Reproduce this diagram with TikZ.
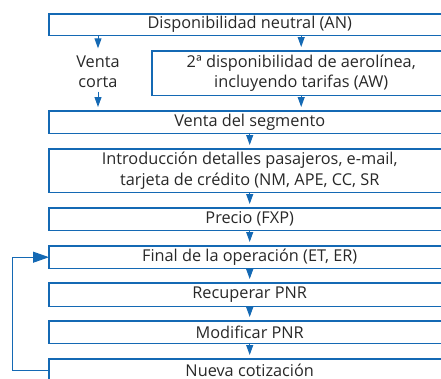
\documentclass[tikz,border=0pt]{standalone}
\usepackage{fontspec}
\setmainfont{Open Sans}
\usepackage{tikz}
\usetikzlibrary{arrows.meta}
\definecolor{flowblue}{RGB}{20,105,180}
\definecolor{textgray}{RGB}{40,40,40}

\begin{document}
\begin{tikzpicture}[
  x=1pt, y=-1pt,
  font=\fontsize{16.3}{20.5}\selectfont, text=textgray,
  stepbox/.style={anchor=north west, minimum width=401pt, inner sep=0pt, align=center},
  frame/.style={draw=flowblue, line width=1.1pt},
  flow/.style={draw=flowblue, line width=1pt, -{Triangle[width=7pt, length=10pt]}, shorten >=4pt},
  back/.style={draw=flowblue, line width=1pt, -{Triangle[width=11pt, length=16pt]}}
]
  \useasboundingbox (0,0) rectangle (441,378);
  \clip (0,0) rectangle (441,378);
  % steps of the booking
  \node[stepbox, minimum height=21pt] (an) at (49,14) {Disponibilidad neutral (AN)};
  \node[align=center] (vc) at (98,72) {Venta\\corta};
  \node[stepbox, minimum width=298pt, minimum height=44pt] (aw) at (152,51)
    {2ª disponibilidad de aerolínea,\\incluyendo tarifas (AW)};
  \node[stepbox, minimum height=22pt] (ss) at (49,111) {Venta del segmento};
  \node[stepbox, minimum height=43pt] (pax) at (49,149)
    {Introducción detalles pasajeros, e-mail,\\tarjeta de crédito (NM, APE, CC, SR};
  \node[stepbox, minimum height=22pt] (fxp) at (49,208) {Precio (FXP)};
  \node[stepbox, minimum height=22pt] (et) at (49,246) {Final de la operación (ET, ER)};
  \node[stepbox, minimum height=23pt] (rt) at (49,283) {Recuperar PNR};
  \node[stepbox, minimum height=22pt] (mod) at (49,321) {Modificar PNR};
  \node[stepbox, minimum height=22pt] (nc) at (49,359) {Nueva cotización};
  % frames run on past the right edge
  \foreach \n in {an, aw, ss, pax, fxp, et, rt, mod, nc} {
    \draw[frame] (\n.south east) -- (\n.south west) -- (\n.north west) -- (\n.north east);
  }
  % connectors
  \draw[flow] (an.south -| vc) -- (vc);
  \draw[flow] (vc) -- (ss.north -| vc);
  \draw[flow] (an.south -| aw) -- (aw);
  \draw[flow] (aw) -- (ss.north -| aw);
  \foreach \a/\b in {ss/pax, pax/fxp, fxp/et, et/rt, rt/mod, mod/nc} {
    \draw[flow] (\a) -- (\b);
  }
  \draw[back] (nc.west) -- ++(-37,0) |- (et.west);
\end{tikzpicture}
\end{document}
